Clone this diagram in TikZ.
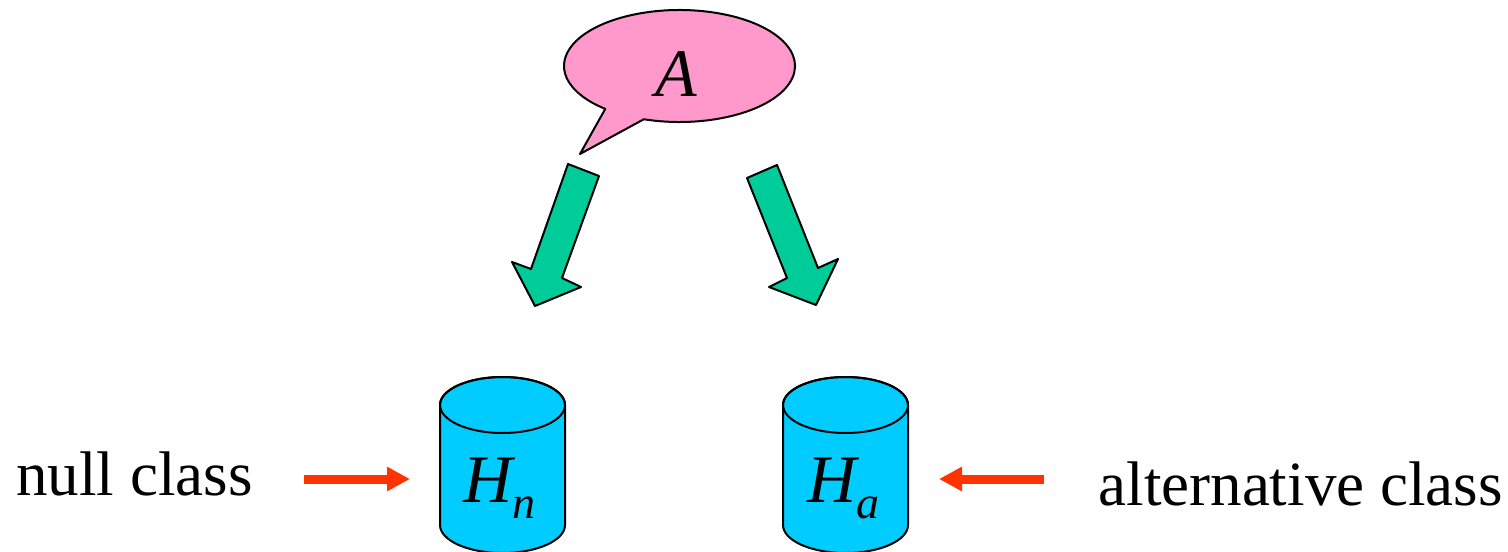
\documentclass[tikz,border=0pt]{standalone}
\usepackage{fontspec}
\setmainfont{Liberation Serif}
\usetikzlibrary{arrows.meta}
\definecolor{bubblepink}{HTML}{FF99CC}
\definecolor{arrowgreen}{HTML}{00CC99}
\definecolor{cylcyan}{HTML}{00CCFF}
\definecolor{redarrow}{HTML}{FF3300}
\tikzset{
  outline/.style={draw=black, line width=1pt, line join=round},
  bubblestyle/.style={outline, fill=bubblepink},
  greenarrow/.style={outline, fill=arrowgreen},
  cylstyle/.style={outline, fill=cylcyan},
  redarr/.style={draw=redarrow, line width=4.5pt, -{Triangle[length=11.5pt,width=11.5pt]}},
  labeltext/.style={inner sep=0pt, font=\fontsize{31.5}{36}\selectfont},
  symtext/.style={inner sep=0pt, font=\fontsize{34}{38}\selectfont\itshape},
}
\newcommand{\subtxt}[1]{\raisebox{-8pt}{\fontsize{23}{23}\selectfont\itshape #1}}
\begin{document}
\begin{tikzpicture}[x=0.5pt, y=-0.5pt]
\useasboundingbox (0,0) rectangle (1508,551);
% speech bubble
\coordinate (bubc) at (679.5,66);
\coordinate (tail) at (580,154);
\path[bubblestyle] (bubc) ++(252:57.75pt and 28pt)
  arc[start angle=252, end angle=590, x radius=57.75pt, y radius=28pt]
  -- (tail) -- cycle;
\node[symtext, anchor=base] (A) at (676,97) {A};
% green arrows
\path[greenarrow] (568,164) -- (599,176) -- (562,278) -- (581,287) -- (535,306) -- (512,262) -- (531,269) -- cycle;
\path[greenarrow] (747,178) -- (777,165) -- (818,268) -- (838,259) -- (816,305) -- (769,287) -- (787,278) -- cycle;
% cylinders
\path[cylstyle] (440,405) -- (440,525) arc[start angle=180, end angle=360, x radius=31.25pt, y radius=14pt]
  -- (565,405) arc[start angle=0, end angle=180, x radius=31.25pt, y radius=14pt] -- cycle;
\draw[outline] (502.5,405) ellipse [x radius=31.25pt, y radius=14pt];
\path[cylstyle] (783,405) -- (783,525) arc[start angle=180, end angle=360, x radius=31.25pt, y radius=14pt]
  -- (908,405) arc[start angle=0, end angle=180, x radius=31.25pt, y radius=14pt] -- cycle;
\draw[outline] (845.5,405) ellipse [x radius=31.25pt, y radius=14pt];
\node[symtext, anchor=base west] (Hn) at (463,502) {H\subtxt{n}};
\node[symtext, anchor=base west] (Ha) at (807,502) {H\subtxt{a}};
% labels
\node[labeltext, anchor=base west] (nullc) at (16,495) {null class};
\node[labeltext, anchor=base east] (altc) at (1503,505) {alternative class};
% red arrows
\coordinate (rl1) at (304,479);
\coordinate (rl2) at (410,479);
\coordinate (rr1) at (1044,479);
\coordinate (rr2) at (939,479);
\draw[redarr] (rl1) -- (rl2);
\draw[redarr] (rr1) -- (rr2);
\end{tikzpicture}
\end{document}
